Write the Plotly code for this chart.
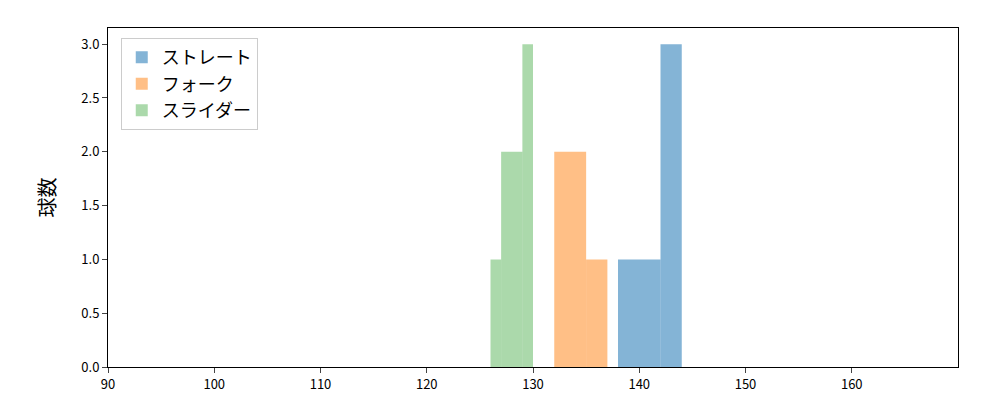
import plotly.graph_objects as go

# histogram bins (left edge, width) and counts per pitch type
straight_left = [138, 142]
straight_width = [4, 2]
straight_count = [1, 3]

fork_left = [132, 135]
fork_width = [3, 2]
fork_count = [2, 1]

slider_left = [126, 127, 129]
slider_width = [1, 2, 1]
slider_count = [1, 2, 3]

series = [
    ("ストレート", straight_left, straight_width, straight_count, "rgba(31,119,180,0.55)"),
    ("フォーク", fork_left, fork_width, fork_count, "rgba(255,127,14,0.5)"),
    ("スライダー", slider_left, slider_width, slider_count, "rgba(44,160,44,0.4)"),
]

fig = go.Figure()
for name, left, width, count, color in series:
    fig.add_trace(go.Bar(x=left, y=count, width=width, offset=0, name=name,
                         marker=dict(color=color, line=dict(width=0))))

fig.update_layout(
    width=1000, height=400, barmode="overlay",
    margin=dict(l=100, r=50, t=20, b=41, autoexpand=False),
    plot_bgcolor="white", paper_bgcolor="white",
    font=dict(family="Noto Sans CJK JP", color="black"),
    legend=dict(x=0.015, y=0.97, xanchor="left", yanchor="top",
                bordercolor="#cccccc", borderwidth=1, font=dict(size=18),
                bgcolor="rgba(255,255,255,0.8)"),
    xaxis=dict(range=[90, 170], tickvals=list(range(90, 170, 10)), showgrid=False,
               showline=True, mirror=True, linecolor="black", ticks="outside",
               tickfont=dict(size=13), automargin=False),
    yaxis=dict(range=[0, 3.15], tickvals=[0, 0.5, 1, 1.5, 2, 2.5, 3], tickformat=".1f",
               showgrid=False, showline=True, mirror=True, linecolor="black",
               ticks="outside", tickfont=dict(size=13), automargin=False,
               title=dict(text="球数", font=dict(size=20), standoff=20)),
)

fig.write_html("out.html")
